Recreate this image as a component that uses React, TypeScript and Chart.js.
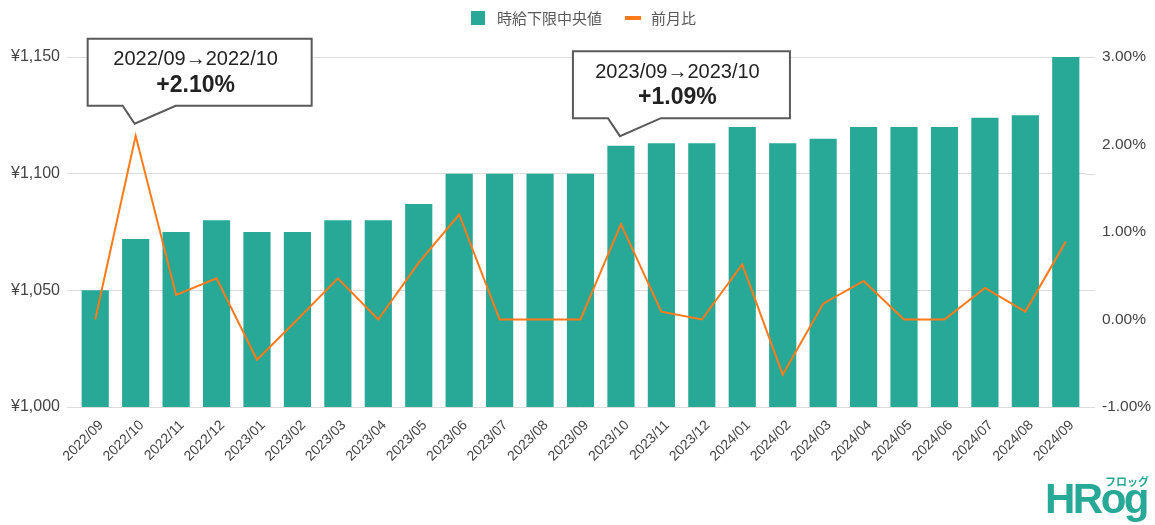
import React, { useEffect, useRef } from "react";
import { Chart, registerables } from "chart.js";

Chart.register(...registerables);

const categories = [
  "2022/09", "2022/10", "2022/11", "2022/12", "2023/01", "2023/02", "2023/03",
  "2023/04", "2023/05", "2023/06", "2023/07", "2023/08", "2023/09", "2023/10",
  "2023/11", "2023/12", "2024/01", "2024/02", "2024/03", "2024/04", "2024/05",
  "2024/06", "2024/07", "2024/08", "2024/09",
];
const wageValues = [
  1050, 1072, 1075, 1080, 1075, 1075, 1080, 1080, 1087, 1100, 1100, 1100, 1100,
  1112, 1113, 1113, 1120, 1113, 1115, 1120, 1120, 1120, 1124, 1125, 1150,
];
const momValues = [
  0, 2.1, 0.28, 0.47, -0.46, 0, 0.47, 0, 0.65, 1.2, 0, 0, 0, 1.09, 0.09, 0,
  0.63, -0.63, 0.18, 0.44, 0, 0, 0.36, 0.09, 0.89,
];
const leftTickValues = [1000, 1050, 1100, 1150];
const rightTickValues = [-1, 0, 1, 2, 3];
const wageLabel = "時給下限中央値";
const momLabel = "前月比";
const calloutIndices = [1, 13];
const calloutRanges = ["2022/09→2022/10", "2023/09→2023/10"];
const calloutTexts = ["+2.10%", "+1.09%"];

const FONT = "'Liberation Sans', Arial, 'Noto Sans CJK JP', sans-serif";
const CJK_FONT = "'Noto Sans CJK JP', 'Liberation Sans', sans-serif";
const TEAL = "#28a897";
const ORANGE = "#ff7a1a";
const GRID = "#dcdcdc";

const gridExtendPlugin = {
  id: "gridExtend",
  beforeDatasetsDraw(chart: any) {
    const { ctx, chartArea, scales } = chart;
    const y = scales.y;
    ctx.save();
    ctx.strokeStyle = GRID;
    ctx.lineWidth = 1;
    y.ticks.forEach((t: any) => {
      const py = Math.round(y.getPixelForValue(t.value)) + 0.5;
      ctx.beginPath();
      ctx.moveTo(chartArea.right, py);
      ctx.lineTo(chartArea.right + 9, py);
      ctx.stroke();
    });
    ctx.restore();
  },
};

const legendPlugin = {
  id: "customLegend",
  afterDraw(chart: any) {
    const { ctx, chartArea } = chart;
    const ds = chart.data.datasets;
    ctx.save();
    ctx.font = `15px ${CJK_FONT}`;
    const w0 = ctx.measureText(ds[0].label).width;
    const w1 = ctx.measureText(ds[1].label).width;
    const total = 14 + 12 + w0 + 23 + 16 + 10 + w1;
    let x = (chartArea.left + chartArea.right) / 2 + 3 - total / 2;
    const cy = 18;
    ctx.fillStyle = ds[0].backgroundColor;
    ctx.fillRect(x, cy - 7, 14, 14);
    x += 14 + 12;
    ctx.fillStyle = "#595959";
    ctx.textBaseline = "middle";
    ctx.textAlign = "left";
    ctx.fillText(ds[0].label, x, cy);
    x += w0 + 23;
    ctx.fillStyle = ds[1].borderColor;
    ctx.fillRect(x, cy - 2, 16, 4);
    x += 16 + 10;
    ctx.fillStyle = "#595959";
    ctx.fillText(ds[1].label, x, cy);
    ctx.restore();
  },
};

const calloutPlugin = {
  id: "callouts",
  afterDatasetsDraw(chart: any, _args: any, opts: any) {
    const { ctx } = chart;
    const meta = chart.getDatasetMeta(1);
    const gaps: number[] = opts.gaps || [];
    calloutIndices.forEach((idx, i) => {
      const pt = meta.data[idx];
      if (!pt) return;
      const tipX = pt.x - 1;
      const tipY = pt.y - gaps[i];
      const w = opts.widths[i];
      const h = 67;
      const left = tipX - 47;
      const bottom = tipY - 18;
      const top = bottom - h;
      ctx.save();
      ctx.fillStyle = "#ffffff";
      ctx.strokeStyle = "#5a5a5a";
      ctx.lineWidth = 2;
      ctx.lineJoin = "miter";
      ctx.beginPath();
      ctx.moveTo(left, top);
      ctx.lineTo(left + w, top);
      ctx.lineTo(left + w, bottom);
      ctx.lineTo(tipX + 41, bottom);
      ctx.lineTo(tipX, tipY);
      ctx.lineTo(tipX - 12, bottom);
      ctx.lineTo(left, bottom);
      ctx.closePath();
      ctx.fill();
      ctx.stroke();
      ctx.fillStyle = "#222222";
      ctx.textAlign = "center";
      ctx.textBaseline = "middle";
      const cx = left + w / 2 - 4;
      ctx.font = `20px ${FONT}`;
      ctx.fillText(calloutRanges[i], cx, top + 21);
      ctx.font = `bold 23px ${FONT}`;
      ctx.fillText(calloutTexts[i], cx, top + 47);
      ctx.restore();
    });
  },
};

export default function App() {
  const canvasRef = useRef<HTMLCanvasElement | null>(null);

  useEffect(() => {
    document.body.style.margin = "0";
    const canvas = canvasRef.current;
    if (!canvas) return;
    const chart = new Chart(canvas, {
      type: "bar",
      data: {
        labels: categories,
        datasets: [
          {
            type: "bar",
            label: wageLabel,
            data: wageValues,
            backgroundColor: TEAL,
            borderWidth: 0,
            yAxisID: "y",
            order: 2,
            categoryPercentage: 0.8,
            barPercentage: 0.84,
          } as any,
          {
            type: "line",
            label: momLabel,
            data: momValues,
            borderColor: ORANGE,
            backgroundColor: ORANGE,
            borderWidth: 2,
            pointRadius: 0,
            tension: 0,
            yAxisID: "y1",
            order: 1,
          } as any,
        ],
      },
      options: {
        animation: false,
        responsive: true,
        maintainAspectRatio: false,
        layout: { padding: { top: 57, left: 0, right: 0, bottom: 0 } },
        plugins: {
          legend: { display: false },
          tooltip: { enabled: false },
          callouts: { gaps: [12, 88], widths: [224, 217] },
        } as any,
        scales: {
          x: {
            grid: { display: false },
            border: { display: false },
            afterFit: (s: any) => {
              s.height = 118;
            },
            ticks: {
              minRotation: 45,
              maxRotation: 45,
              autoSkip: false,
              font: { family: FONT, size: 14 },
              color: "#444444",
              padding: 2,
              labelOffset: 6,
            },
          },
          y: {
            position: "left",
            min: 1000,
            max: 1150,
            afterBuildTicks: (s: any) => {
              s.ticks = leftTickValues.map((v) => ({ value: v }));
            },
            afterFit: (s: any) => {
              s.width = 75;
            },
            grid: { color: GRID, tickLength: 8, drawTicks: true },
            border: { display: false },
            ticks: {
              font: { family: FONT, size: 16 },
              color: "#444444",
              padding: 7,
              callback: (v: any) => "¥" + Number(v).toLocaleString("en-US"),
            },
          },
          y1: {
            position: "right",
            min: -1,
            max: 3,
            afterBuildTicks: (s: any) => {
              s.ticks = rightTickValues.map((v) => ({ value: v }));
            },
            afterFit: (s: any) => {
              s.width = 69;
            },
            grid: { display: false, drawTicks: false },
            border: { display: false },
            ticks: {
              font: { family: FONT, size: 15.5 },
              color: "#444444",
              padding: 16,
              callback: (v: any) => Number(v).toFixed(2) + "%",
            },
          },
        },
      },
      plugins: [gridExtendPlugin, calloutPlugin, legendPlugin],
    });
    return () => chart.destroy();
  }, []);

  return (
    <div style={{ position: "absolute", left: 0, top: 0, width: 1155, height: 525 }}>
      <canvas ref={canvasRef} />
      <div
        style={{
          position: "absolute",
          left: 1045,
          top: 478,
          fontFamily: FONT,
          color: TEAL,
          fontWeight: "bold",
          fontSize: 42,
          lineHeight: "42px",
          letterSpacing: "-2.5px",
          whiteSpace: "nowrap",
        }}
      >
        HRog
      </div>
      <div
        style={{
          position: "absolute",
          left: 1105,
          top: 475,
          fontFamily: CJK_FONT,
          color: TEAL,
          fontWeight: "bold",
          fontSize: 11,
          lineHeight: "12px",
          whiteSpace: "nowrap",
        }}
      >
        フロッグ
      </div>
    </div>
  );
}
